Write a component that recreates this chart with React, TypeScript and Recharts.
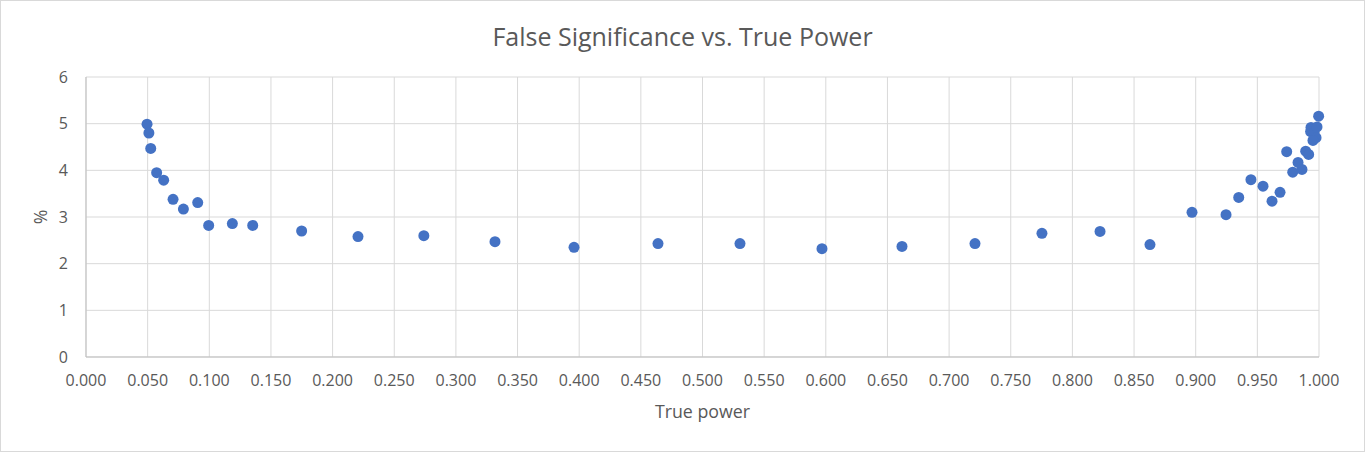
import React from 'react'
import {
  ScatterChart, Scatter, XAxis, YAxis, CartesianGrid, Label
} from 'recharts'

const truePower = [
  0.0495, 0.051, 0.0525, 0.0573, 0.063, 0.0706, 0.079, 0.0906, 0.0995, 0.1187,
  0.1352, 0.1749, 0.2206, 0.274, 0.3317, 0.3958, 0.4639, 0.5304, 0.5969, 0.6618,
  0.721, 0.7753, 0.8224, 0.8629, 0.897, 0.9246, 0.9349, 0.9448, 0.9546, 0.9619,
  0.9684, 0.9738, 0.9787, 0.983, 0.9862, 0.9892, 0.9916, 0.9932, 0.9935, 0.996,
  0.9976, 0.9951, 0.9984, 0.9997
]

const falseSignificance = [
  4.99, 4.8, 4.47, 3.95, 3.79, 3.38, 3.17, 3.31, 2.82, 2.86,
  2.82, 2.7, 2.58, 2.6, 2.47, 2.35, 2.43, 2.43, 2.32, 2.37,
  2.43, 2.65, 2.69, 2.41, 3.1, 3.05, 3.42, 3.8, 3.66, 3.34,
  3.53, 4.4, 3.96, 4.17, 4.02, 4.41, 4.34, 4.83, 4.92, 4.81,
  4.7, 4.64, 4.93, 5.16
]

const xTicks = [
  0, 0.05, 0.1, 0.15, 0.2, 0.25, 0.3, 0.35, 0.4, 0.45, 0.5,
  0.55, 0.6, 0.65, 0.7, 0.75, 0.8, 0.85, 0.9, 0.95, 1
]
const yTicks = [0, 1, 2, 3, 4, 5, 6]

const chartTitle = 'False Significance vs. True Power'
const xTitle = 'True power'
const yTitle = '%'

const points = truePower.map((x, i) => ({ x, y: falseSignificance[i] }))

const FONT = '"Open Sans", sans-serif'
const TEXT = '#595959'

export default function App() {
  return (
    <div
      style={{
        position: 'absolute', left: 0, top: 0, width: 1365, height: 452,
        boxSizing: 'border-box', border: '1px solid #d9d9d9', background: '#fff',
        fontFamily: FONT
      }}
    >
      <div
        style={{
          position: 'absolute', left: 0, top: 18, width: '100%', textAlign: 'center',
          fontSize: 25, color: TEXT, lineHeight: '34px'
        }}
      >
        {chartTitle}
      </div>
      <ScatterChart
        width={1363}
        height={450}
        margin={{ top: 76, right: 45, bottom: 0, left: 0 }}
      >
        <CartesianGrid stroke="#d9d9d9" />
        <XAxis
          type="number"
          dataKey="x"
          domain={[0, 1]}
          ticks={xTicks}
          tickFormatter={(v) => v.toFixed(3)}
          interval={0}
          height={94}
          tickLine={false}
          tickSize={0}
          tickMargin={18}
          axisLine={{ stroke: '#bfbfbf' }}
          tick={{ fill: TEXT, fontSize: 16, fontFamily: FONT }}
        >
          <Label
            value={xTitle}
            position="insideBottom"
            offset={33}
            style={{ fill: TEXT, fontSize: 17.8, fontFamily: FONT }}
          />
        </XAxis>
        <YAxis
          type="number"
          dataKey="y"
          domain={[0, 6]}
          ticks={yTicks}
          interval={0}
          width={85}
          tickLine={false}
          tickSize={0}
          tickMargin={18}
          axisLine={{ stroke: '#bfbfbf' }}
          tick={{ fill: TEXT, fontSize: 16, fontFamily: FONT }}
        >
          <Label
            content={({ viewBox }: any) => {
              const cx = viewBox.x + 38.5
              const cy = viewBox.y + viewBox.height / 2
              return (
                <text
                  x={cx}
                  y={cy}
                  transform={`rotate(-90 ${cx} ${cy})`}
                  textAnchor="middle"
                  dominantBaseline="central"
                  fill={TEXT}
                  fontSize={17.8}
                  fontFamily={FONT}
                >
                  {yTitle}
                </text>
              )
            }}
          />
        </YAxis>
        <Scatter
          data={points}
          isAnimationActive={false}
          shape={(p: any) => <circle cx={p.cx} cy={p.cy} r={5.5} fill="#4472C4" />}
        />
      </ScatterChart>
    </div>
  )
}
